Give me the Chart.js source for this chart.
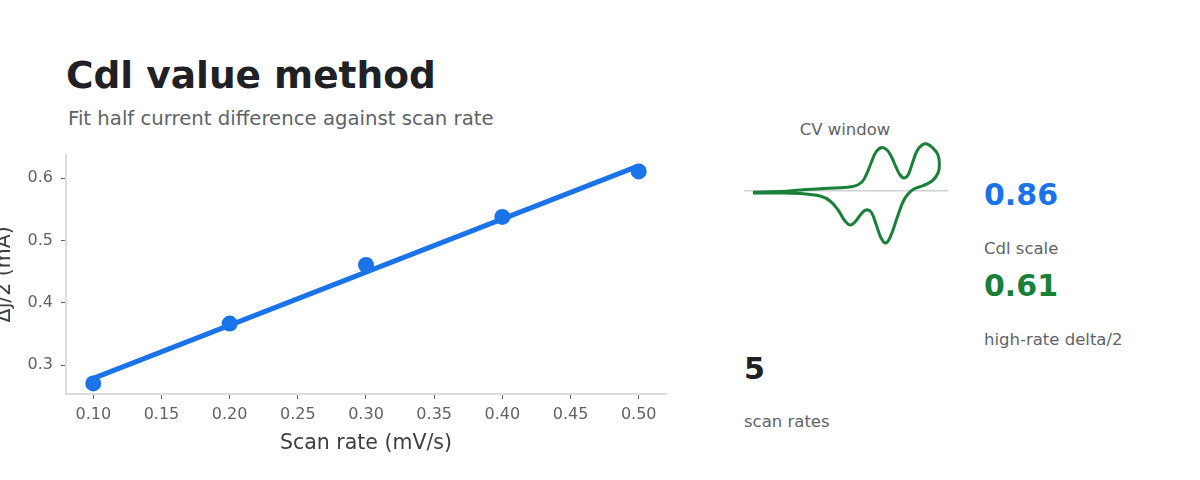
<!DOCTYPE html>
<html>
<head>
<meta charset="utf-8">
<script src="https://cdn.jsdelivr.net/npm/chart.js@4/dist/chart.umd.min.js"></script>
<style>
  html, body { margin: 0; padding: 0; background: #fff; width: 1200px; height: 480px; overflow: hidden; font-family: "DejaVu Sans", sans-serif; }
  .abs { position: absolute; white-space: nowrap; line-height: 1; }
  #title { left: 66px; top: 57px; font-size: 37.5px; font-weight: bold; color: #202124; }
  #subtitle { left: 68px; top: 109px; font-size: 19.7px; color: #5f6368; }
  #cvTitle { left: 845px; top: 122px; font-size: 16.5px; color: #5f6368; transform: translateX(-50%); }
  .big { font-size: 30px; font-weight: bold; }
  .lab { font-size: 16.5px; color: #5f6368; }
  canvas { position: absolute; }
</style>
</head>
<body>
<div id="title" class="abs">Cdl value method</div>
<div id="subtitle" class="abs">Fit half current difference against scan rate</div>
<div id="cvTitle" class="abs">CV window</div>
<div class="abs big" style="left:984px; top:180px; color:#1a73e8;">0.86</div>
<div class="abs lab" style="left:984px; top:241px;">Cdl scale</div>
<div class="abs big" style="left:984px; top:271px; color:#188038;">0.61</div>
<div class="abs lab" style="left:984px; top:332px;">high-rate delta/2</div>
<div class="abs big" style="left:744px; top:354px; color:#202124;">5</div>
<div class="abs lab" style="left:744px; top:414px;">scan rates</div>

<canvas id="main" width="700" height="319" style="left:-12px; top:137px;"></canvas>
<canvas id="cv" width="204" height="108" style="left:744px; top:140px;"></canvas>

<script>
// ---- data ----
const scanRates = [0.10, 0.20, 0.30, 0.40, 0.50];           // mV/s
const halfDelta = [0.271, 0.367, 0.461, 0.538, 0.611];      // mA
const fitX = [0.10, 0.50];
const fitY = [0.279, 0.620];
const xTicks = [0.10, 0.15, 0.20, 0.25, 0.30, 0.35, 0.40, 0.45, 0.50];
const yTicks = [0.3, 0.4, 0.5, 0.6];

// CV window loop (potential, current)
const cvE = [0.044,0.176,0.304,0.446,0.534,0.578,0.603,0.623,0.647,0.676,0.701,0.721,0.745,0.765,0.784,0.804,0.824,0.848,0.873,0.897,0.926,0.951,0.958,0.951,0.922,0.873,0.833,0.804,0.779,0.750,0.721,0.696,0.672,0.647,0.623,0.598,0.574,0.544,0.520,0.495,0.461,0.422,0.373,0.275,0.152,0.044];
const cvI = [-0.032,-0.016,0.024,0.054,0.084,0.174,0.354,0.554,0.774,0.864,0.814,0.694,0.474,0.314,0.254,0.314,0.534,0.794,0.914,0.934,0.854,0.714,0.514,0.354,0.194,0.094,0.034,-0.066,-0.226,-0.546,-0.886,-1.046,-0.946,-0.666,-0.426,-0.386,-0.466,-0.626,-0.686,-0.606,-0.386,-0.206,-0.106,-0.056,-0.046,-0.046];
const cvBaseE = [0, 1];
const cvBaseI = [0, 0];

const BLUE = '#1a73e8';
const GREEN = '#188038';
const AXIS = '#dadce0';
const TICK = '#5f6368';

Chart.defaults.font.family = '"DejaVu Sans", sans-serif';

const pts = (xs, ys) => xs.map((x, i) => ({ x: x, y: ys[i] }));

new Chart(document.getElementById('main'), {
  type: 'scatter',
  data: {
    datasets: [
      { label: 'fit', data: pts(fitX, fitY), showLine: true, borderColor: BLUE, borderWidth: 5, pointRadius: 0, fill: false, order: 2 },
      { label: 'data', data: pts(scanRates, halfDelta), backgroundColor: BLUE, borderColor: BLUE, pointRadius: 8, pointHoverRadius: 8, borderWidth: 0, order: 1 }
    ]
  },
  options: {
    responsive: false,
    animation: false,
    devicePixelRatio: 1,
    layout: { padding: { top: 10, right: 22, left: 0, bottom: 0 } },
    plugins: { legend: { display: false }, tooltip: { enabled: false } },
    scales: {
      x: {
        type: 'linear', min: 0.08, max: 0.52,
        afterFit: s => { s.height = 62; },
        afterBuildTicks: s => { s.ticks = xTicks.map(v => ({ value: v })); },
        ticks: { color: TICK, font: { size: 16 }, padding: 6, callback: v => v.toFixed(2) },
        grid: { display: true, drawOnChartArea: false, drawTicks: true, tickLength: 5, color: TICK },
        border: { display: true, color: AXIS, width: 2 },
        title: { display: true, text: 'Scan rate (mV/s)', color: '#3c4043', font: { size: 20.5 }, padding: { top: 2, bottom: 0 } }
      },
      y: {
        type: 'linear', min: 0.254, max: 0.638,
        afterFit: s => { s.width = 78; },
        afterBuildTicks: s => { s.ticks = yTicks.map(v => ({ value: v })); },
        ticks: { color: TICK, font: { size: 16 }, padding: 8, callback: v => v.toFixed(1) },
        grid: { display: true, drawOnChartArea: false, drawTicks: true, tickLength: 5, color: TICK },
        border: { display: true, color: AXIS, width: 2 },
        title: { display: true, text: 'Δj/2 (mA)', color: '#3c4043', font: { size: 20.5 }, padding: { top: 4, bottom: 0 } }
      }
    }
  }
});

new Chart(document.getElementById('cv'), {
  type: 'scatter',
  data: {
    datasets: [
      { label: 'base', data: pts(cvBaseE, cvBaseI), showLine: true, borderColor: '#cfd2d6', borderWidth: 1.5, pointRadius: 0, order: 2 },
      { label: 'cv', data: pts(cvE, cvI), showLine: true, borderColor: GREEN, borderWidth: 3, pointRadius: 0, tension: 0.4, fill: false, order: 1 }
    ]
  },
  options: {
    responsive: false,
    animation: false,
    devicePixelRatio: 1,
    layout: { padding: 0 },
    plugins: { legend: { display: false }, tooltip: { enabled: false } },
    scales: {
      x: { type: 'linear', display: false, min: 0, max: 1 },
      y: { type: 'linear', display: false, min: -1.146, max: 1.014 }
    }
  }
});
</script>
</body>
</html>
